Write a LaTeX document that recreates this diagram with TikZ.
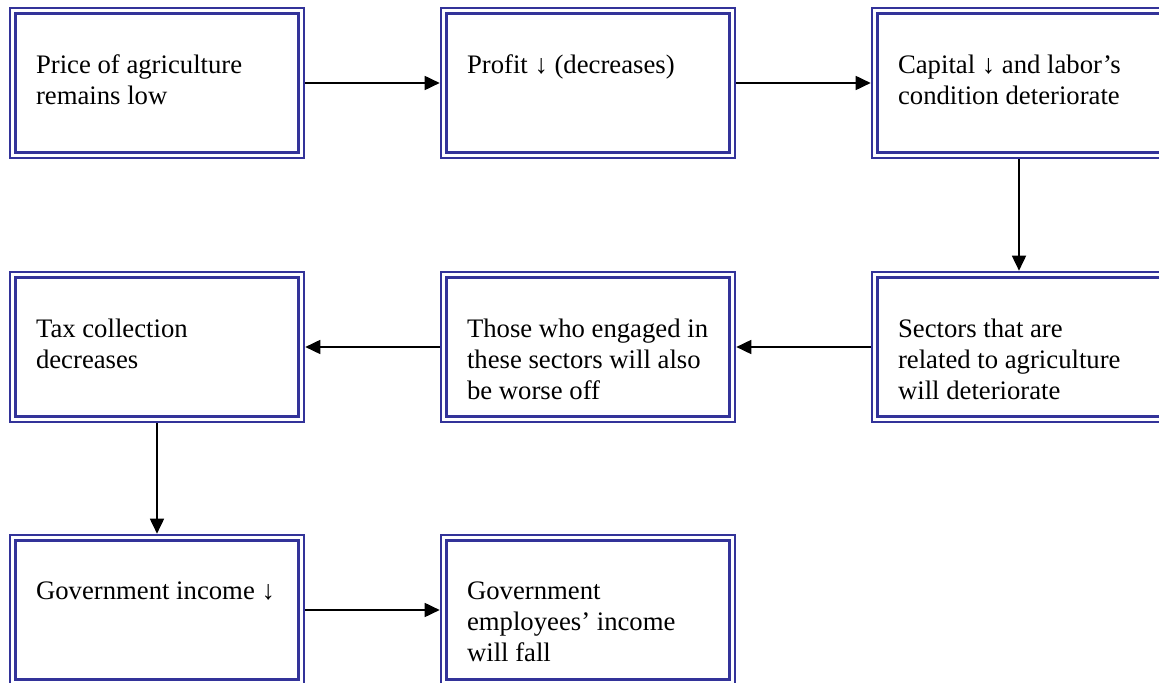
\documentclass[tikz,border=0pt]{standalone}
\usepackage{fontspec}
\setmainfont{Liberation Serif}
\usepackage{tikz}
\usetikzlibrary{positioning}
\usetikzlibrary{arrows.meta}
\definecolor{boxblue}{RGB}{51,51,153}

\begin{document}
\begin{tikzpicture}[>={Triangle[length=0.3cm,width=0.28cm]},
  box/.style={draw=boxblue,line width=1.5pt,minimum width=5.88cm,minimum height=3cm,inner sep=0pt,
    path picture={\draw[boxblue,line width=1.5pt] ([xshift=0.11cm,yshift=-0.11cm]path picture bounding box.north west) rectangle ([xshift=-0.11cm,yshift=0.11cm]path picture bounding box.south east);}},
  txt/.style={align=left,inner sep=0pt,font=\fontsize{15.2}{17.6}\selectfont}]
\useasboundingbox (0,0) rectangle (23.18,-13.66);
\node[box] at (3.14,-1.66) (Price) {};
\node[box] at (11.76,-1.66) (Profit) {};
\node[box] at (20.38,-1.66) (Capital) {};
\node[box] at (3.14,-6.94) (Tax) {};
\node[box] at (11.76,-6.94) (Those) {};
\node[box] at (20.38,-6.94) (Sectors) {};
\node[box] at (3.14,-12.2) (Govinc) {};
\node[box] at (11.76,-12.2) (Govemp) {};
\node[txt,below right=0.96cm and 0.54cm of Price.north west] (Pricetxt) {Price of agriculture\\remains low};
\node[txt,below right=0.96cm and 0.54cm of Profit.north west] (Profittxt) {Profit ↓ (decreases)};
\node[txt,below right=0.96cm and 0.54cm of Capital.north west] (Capitaltxt) {Capital ↓ and labor’s\\condition deteriorate};
\node[txt,below right=0.96cm and 0.54cm of Tax.north west] (Taxtxt) {Tax collection\\decreases};
\node[txt,below right=0.96cm and 0.54cm of Those.north west] (Thosetxt) {Those who engaged in\\these sectors will also\\be worse off};
\node[txt,below right=0.96cm and 0.54cm of Sectors.north west] (Sectorstxt) {Sectors that are\\related to agriculture\\will deteriorate};
\node[txt,below right=0.96cm and 0.54cm of Govinc.north west] (Govinctxt) {Government income ↓};
\node[txt,below right=0.96cm and 0.54cm of Govemp.north west] (Govemptxt) {Government\\employees’ income\\will fall};
\draw[->, line width=1pt] (Price) -- (Profit);
\draw[->, line width=1pt] (Profit) -- (Capital);
\draw[->, line width=1pt] (Capital) -- (Sectors);
\draw[->, line width=1pt] (Sectors) -- (Those);
\draw[->, line width=1pt] (Those) -- (Tax);
\draw[->, line width=1pt] (Tax) -- (Govinc);
\draw[->, line width=1pt] (Govinc) -- (Govemp);
\end{tikzpicture}
\end{document}
